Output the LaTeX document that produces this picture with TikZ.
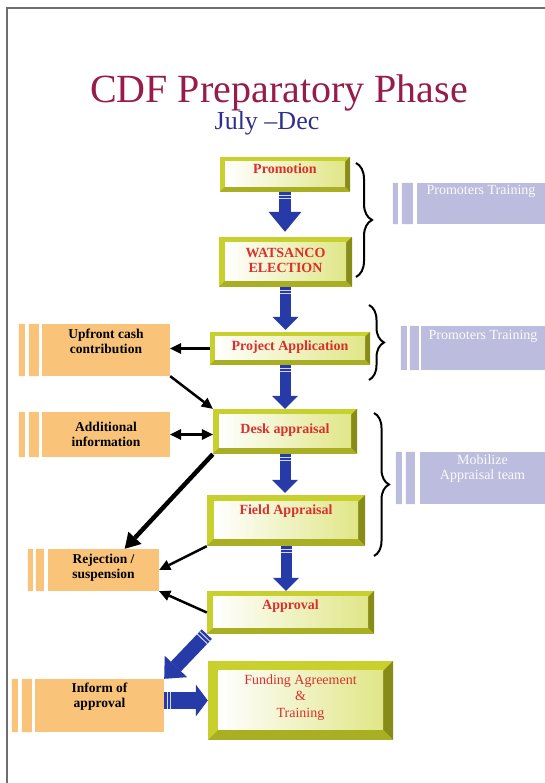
\documentclass[tikz,border=0pt]{standalone}
\usepackage{fontspec}
\setmainfont{Liberation Serif}
\usetikzlibrary{arrows.meta,calc,decorations.pathreplacing,decorations.markings}

\definecolor{ygreen}{RGB}{200,208,45}
\definecolor{ydark}{RGB}{135,140,25}
\definecolor{ymid}{RGB}{168,175,35}
\definecolor{ylight}{RGB}{224,230,135}
\definecolor{stagered}{RGB}{218,48,45}
\definecolor{orng}{RGB}{249,196,122}
\definecolor{lilac}{RGB}{188,188,222}
\definecolor{arrowblue}{RGB}{38,58,168}
\definecolor{titlered}{RGB}{150,28,75}
\definecolor{titleblue}{RGB}{48,48,140}
\definecolor{framegray}{RGB}{110,110,110}

\newcommand\lift[2]{\raisebox{#1}[\height][\depth]{\begin{tabular}{@{}c@{}}#2\end{tabular}}}

\tikzset{
  bev/.store in=\bev, bev=6pt,
  stage/.style={rectangle, inner sep=0pt, fill=ygreen, text=stagered,
    font=\fontsize{14}{15}\selectfont\bfseries,
    path picture={
      \fill[ydark] (path picture bounding box.north east) -- (path picture bounding box.south east)
        -- ([shift={(-\bev,\bev)}]path picture bounding box.south east)
        -- ([shift={(-\bev,-\bev)}]path picture bounding box.north east) -- cycle;
      \fill[ymid] (path picture bounding box.south west) -- (path picture bounding box.south east)
        -- ([shift={(-\bev,\bev)}]path picture bounding box.south east)
        -- ([shift={(\bev,\bev)}]path picture bounding box.south west) -- cycle;
      \shade[left color=white, right color=ylight]
        ([shift={(\bev,-\bev)}]path picture bounding box.north west) rectangle
        ([shift={(-\bev,\bev)}]path picture bounding box.south east);
    }},
  side/.style={rectangle, inner sep=0pt, fill=orng, font=\fontsize{13.5}{15}\selectfont\bfseries},
  note/.style={rectangle, inner sep=0pt, fill=lilac, text=white!94!lilac, font=\fontsize{14}{15}\selectfont},
  striped/.style={postaction={decorate, decoration={markings,
    mark=at position 3pt with {\draw[-, shorten >=0pt, shorten <=0pt, white!80!arrowblue, line width=1pt] (0,-#1) -- (0,#1);},
    mark=at position 6.5pt with {\draw[-, shorten >=0pt, shorten <=0pt, white!80!arrowblue, line width=1pt] (0,-#1) -- (0,#1);}}}},
  bigflow/.style n args={3}{draw=arrowblue, line width=#1, -{Triangle[width=#2, length=#3, line width=0pt]}, striped=#1/2},
  link/.style={draw=black, line width=2.5pt, -{Triangle[length=11pt, width=11pt, line width=0pt]}},
  twoway/.style={link, {Triangle[length=11pt, width=11pt, line width=0pt]}-{Triangle[length=11pt, width=11pt, line width=0pt]}},
  heavylink/.style={draw=black, line width=4.5pt, -{Triangle[length=15pt, width=18pt, line width=0pt]}},
  curly/.style={decorate, decoration={brace, amplitude=#1}, line width=2pt},
}

\begin{document}
\begin{tikzpicture}[x=1pt,y=1pt]
  \useasboundingbox (0,0) rectangle (545,783);
  %Straight Lines: frame
  \draw[line width=1.2pt, framegray] (7,0) -- (7,775) -- (545,775);

  %Text: title
  \node[anchor=base, text=titlered, font=\fontsize{40}{44}\selectfont] (title) at (279,680) {CDF Preparatory Phase};
  \node[anchor=base, text=titleblue, font=\fontsize{26}{30}\selectfont] (period) at (267,653.5) {July –Dec};

  %Shape: Bevel boxes
  \node[stage, bev=5pt, minimum width=130pt, minimum height=35pt] (promo) at (285,608.5) {\lift{4pt}{Promotion}};
  \node[stage, minimum width=133pt, minimum height=50pt] (watsanco) at (285.5,521) {\lift{0pt}{WATSANCO\\ELECTION}};
  \node[stage, bev=5pt, minimum width=160pt, minimum height=33pt] (projapp) at (290,434.5) {\lift{1pt}{Project Application}};
  \node[stage, minimum width=144pt, minimum height=45pt] (desk) at (285,351.5) {\lift{1pt}{Desk appraisal}};
  \node[stage, bev=7pt, minimum width=158pt, minimum height=51pt] (field) at (286,262.5) {\lift{9pt}{Field Appraisal}};
  \node[stage, minimum width=167pt, minimum height=43pt] (approval) at (290.5,170.5) {\lift{6pt}{Approval}};
  \node[stage, bev=10pt, minimum width=185pt, minimum height=79pt, font=\fontsize{14}{16.5}\selectfont] (funding) at (300.5,82.5) {\lift{3pt}{Funding Agreement\\\&\\Training}};

  %Shape: Rectangle (side boxes)
  \node[side, minimum width=128pt, minimum height=52pt] (upfront) at (106,433) {\lift{7pt}{Upfront cash\\contribution}};
  \node[side, minimum width=128pt, minimum height=45pt] (additional) at (106,348.5) {\lift{-2pt}{Additional\\information}};
  \node[side, minimum width=111pt, minimum height=42pt] (rejection) at (103.5,213) {\lift{2pt}{Rejection /\\suspension}};
  \node[side, minimum width=129pt, minimum height=53pt] (inform) at (99.5,77.5) {\lift{8pt}{Inform of\\approval}};
  \fill[orng] ($(upfront.north west)+(-13,0)$) rectangle ($(upfront.south west)+(-3,0)$) ($(upfront.north west)+(-23,0)$) rectangle ($(upfront.south west)+(-17,0)$);
  \fill[orng] ($(additional.north west)+(-13,0)$) rectangle ($(additional.south west)+(-3,0)$) ($(additional.north west)+(-23,0)$) rectangle ($(additional.south west)+(-17,0)$);
  \fill[orng] ($(rejection.north west)+(-12,0)$) rectangle ($(rejection.south west)+(-4,0)$) ($(rejection.north west)+(-20,0)$) rectangle ($(rejection.south west)+(-15,0)$);
  \fill[orng] ($(inform.north west)+(-13,0)$) rectangle ($(inform.south west)+(-3,0)$) ($(inform.north west)+(-23,0)$) rectangle ($(inform.south west)+(-17,0)$);

  %Shape: Rectangle (notes)
  \node[note, minimum width=128pt, minimum height=41pt] (training1) at (481,579.5) {\lift{12pt}{Promoters Training}};
  \node[note, minimum width=124pt, minimum height=44pt] (training2) at (483,435) {\lift{11pt}{Promoters Training}};
  \node[note, minimum width=125pt, minimum height=52pt] (mobilize) at (482.5,305) {\lift{9pt}{Mobilize\\Appraisal team}};
  \fill[lilac] ($(training1.north west)+(-15,0)$) rectangle ($(training1.south west)+(-4,0)$) ($(training1.north west)+(-24,0)$) rectangle ($(training1.south west)+(-19,0)$);
  \fill[lilac] ($(training2.north west)+(-11,0)$) rectangle ($(training2.south west)+(-2,0)$) ($(training2.north west)+(-20,0)$) rectangle ($(training2.south west)+(-14,0)$);
  \fill[lilac] ($(mobilize.north west)+(-14,0)$) rectangle ($(mobilize.south west)+(-5,0)$) ($(mobilize.north west)+(-24,0)$) rectangle ($(mobilize.south west)+(-18,0)$);

  %Curve Lines: braces
  \draw[curly=16pt] (356,620) -- (356,506);
  \draw[curly=15pt] (369,478) -- (369,403);
  \draw[curly=15pt] (374,370) -- (374,227);

  %Straight Lines: main flow
  \draw[bigflow={12pt}{33pt}{20pt}, shorten >=5pt] (promo.south) -- (promo.south |- watsanco.north);
  \draw[bigflow={11pt}{26pt}{13pt}, shorten >=2pt] (watsanco.south) -- (watsanco.south |- projapp.north);
  \draw[bigflow={11pt}{26pt}{13pt}] (desk.north |- projapp.south) -- (desk.north);
  \draw[bigflow={11pt}{26pt}{13pt}, shorten >=2pt] (desk.south) -- (desk.south |- field.north);
  \draw[bigflow={11pt}{26pt}{13pt}] (field.south) -- (field.south |- approval.north);
  \draw[bigflow={14pt}{31pt}{17pt}] (approval.south west) -- (inform.north east);
  \draw[bigflow={17pt}{32pt}{12pt}] (funding.west -| inform.east) -- (funding.west);

  %Straight Lines: side links
  \draw[link] (projapp.west) -- (projapp.west -| upfront.east);
  \draw[link] (upfront.south east) -- (desk.north west);
  \draw[twoway] (additional.east) -- (additional.east -| desk.west);
  \draw[heavylink] (desk.south west) -- (rejection.45);
  \draw[link] (field.south west) -- (rejection.east);
  \draw[link] (approval.west) -- (rejection.south east);
\end{tikzpicture}
\end{document}
